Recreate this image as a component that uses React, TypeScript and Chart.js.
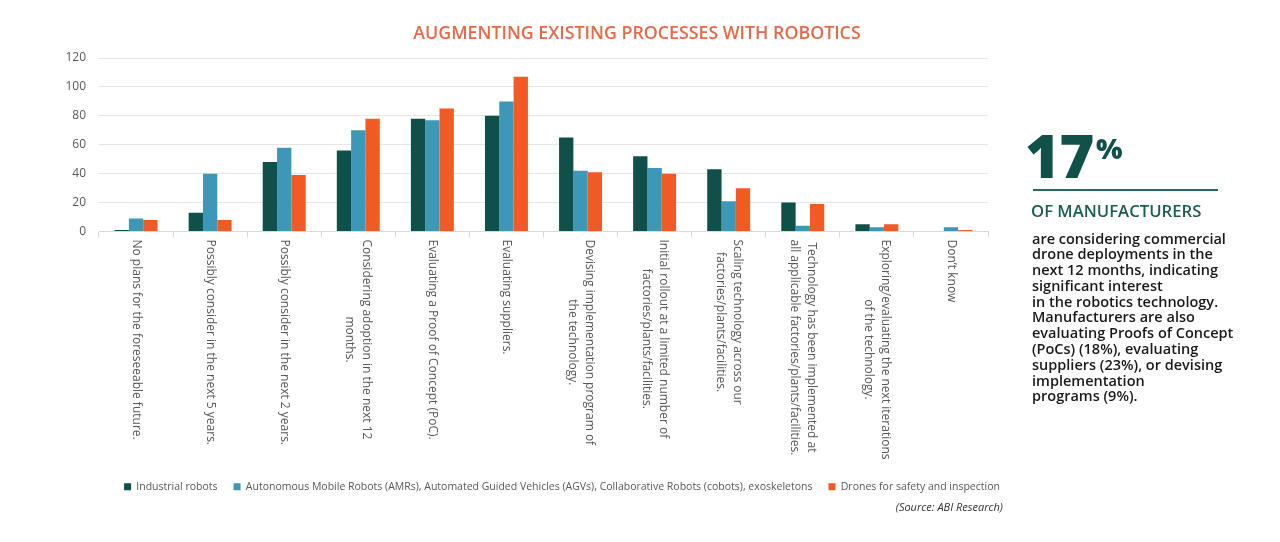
import React, { useEffect, useRef } from "react";
import { Chart, registerables } from "chart.js";

Chart.register(...registerables);

const chartTitle = "AUGMENTING EXISTING PROCESSES WITH ROBOTICS";
const sourceNote = "(Source: ABI Research)";

const categories: string[][] = [
  ["No plans for the foreseeable future."],
  ["Possibly consider in the next 5 years."],
  ["Possibly consider in the next 2 years."],
  ["Considering adoption in the next 12", "months."],
  ["Evaluating a Proof of Concept (PoC)."],
  ["Evaluating suppliers."],
  ["Devising implementation program of", "the technology."],
  ["Initial rollout at a limited number of", "factories/plants/facilities."],
  ["Scaling technology across our", "factories/plants/facilities."],
  ["Technology has been implemented at", "all applicable factories/plants/facilities."],
  ["Exploring/evaluating the next iterations", "of the technology."],
  ["Don\u2019t know"],
];

const seriesNames = [
  "Industrial robots",
  "Autonomous Mobile Robots (AMRs), Automated Guided Vehicles (AGVs), Collaborative Robots (cobots), exoskeletons",
  "Drones for safety and inspection",
];

const industrialRobots = [1, 13, 48, 56, 78, 80, 65, 52, 43, 20, 5, 0];
const mobileCollaborative = [9, 40, 58, 70, 77, 90, 42, 44, 21, 4, 3, 3];
const dronesInspection = [8, 8, 39, 78, 85, 107, 41, 40, 30, 19, 5, 1];

const seriesColors = ["#10504b", "#3d98b8", "#f15a24"];

const yMin = 0;
const yMax = 120;
const yStep = 20;

const bodyLines = [
  "are considering commercial",
  "drone deployments in the",
  "next 12 months, indicating",
  "significant interest",
  "in the robotics technology.",
  "Manufacturers are also",
  "evaluating Proofs of Concept",
  "(PoCs) (18%), evaluating",
  "suppliers (23%), or devising",
  "implementation",
  "programs (9%).",
];

const FONT = '"Open Sans", "Noto Sans", sans-serif';

const overlayPlugin = {
  id: "overlayText",
  afterDraw(chart: any) {
    const { ctx, chartArea } = chart;
    const xs = chart.scales.x;
    ctx.save();
    ctx.font = `12px ${FONT}`;
    ctx.fillStyle = "#595959";
    ctx.textBaseline = "middle";
    ctx.textAlign = "center";
    categories.forEach((lines, i) => {
      const cx = xs.getPixelForValue(i);
      const maxW = Math.max(...lines.map((l) => ctx.measureText(l).width));
      ctx.save();
      ctx.translate(cx, chartArea.bottom + 8);
      ctx.rotate(Math.PI / 2);
      lines.forEach((l, j) => {
        ctx.fillText(l, maxW / 2, (j - (lines.length - 1) / 2) * 17);
      });
      ctx.restore();
    });
    ctx.font = `600 17.8px ${FONT}`;
    ctx.fillStyle = "#e8694a";
    ctx.textAlign = "center";
    ctx.fillText(chartTitle, 637, 34);
    ctx.font = `italic 11px ${FONT}`;
    ctx.textAlign = "right";
    ctx.fillStyle = "#333333";
    ctx.fillText(sourceNote, 1003, 508);
    ctx.restore();
  },
};

export default function App() {
  const canvasRef = useRef<HTMLCanvasElement | null>(null);

  useEffect(() => {
    if (!canvasRef.current) return;
    const chart = new Chart(canvasRef.current, {
      type: "bar",
      data: {
        labels: categories.map((c) => c.join(" ")),
        datasets: [
          { label: seriesNames[0], data: industrialRobots, backgroundColor: seriesColors[0] },
          { label: seriesNames[1], data: mobileCollaborative, backgroundColor: seriesColors[1] },
          { label: seriesNames[2], data: dronesInspection, backgroundColor: seriesColors[2] },
        ],
      },
      options: {
        animation: false,
        responsive: false,
        events: [],
        layout: { padding: { top: 58, right: 156, bottom: 40, left: 0 } },
        datasets: {
          bar: { categoryPercentage: 0.58, barPercentage: 1, borderWidth: 0 },
        },
        plugins: {
          title: { display: false },
          tooltip: { enabled: false },
          legend: {
            position: "bottom",
            labels: {
              boxWidth: 7,
              boxHeight: 7,
              padding: 16,
              color: "#595959",
              font: { family: FONT, size: 10.5 },
            },
          },
        },
        scales: {
          x: {
            ticks: { display: false },
            grid: {
              display: true,
              drawOnChartArea: false,
              drawTicks: true,
              tickLength: 6,
              color: "#d9d9d9",
              offset: true,
            },
            border: { display: true, color: "#d9d9d9" },
            afterFit: (s: any) => {
              s.height = 234;
            },
          },
          y: {
            min: yMin,
            max: yMax,
            ticks: {
              stepSize: yStep,
              color: "#595959",
              font: { family: FONT, size: 12 },
              padding: 13,
            },
            grid: { color: "#e6e6e6", drawTicks: false },
            border: { display: false },
            afterFit: (s: any) => {
              s.width = 99;
            },
          },
          y2: {
            position: "right",
            display: true,
            ticks: { display: false },
            grid: { display: false },
            border: { display: false },
            afterFit: (s: any) => {
              s.width = 136;
            },
          },
        },
      },
      plugins: [overlayPlugin],
    } as any);
    return () => chart.destroy();
  }, []);

  return (
    <div
      style={{
        position: "absolute",
        left: 0,
        top: 0,
        width: 1280,
        height: 542,
        background: "#ffffff",
        overflow: "hidden",
        fontFamily: FONT,
      }}
    >
      <canvas
        ref={canvasRef}
        width={1280}
        height={542}
        style={{ position: "absolute", left: 0, top: 0, width: 1280, height: 542 }}
      />
      <div
        style={{
          position: "absolute",
          left: 1025,
          top: 124.6,
          fontSize: 60,
          lineHeight: "60px",
          fontWeight: 800,
          color: "#10524a",
          letterSpacing: -1,
          whiteSpace: "nowrap",
        }}
      >
        17
      </div>
      <div
        style={{
          position: "absolute",
          left: 1096,
          top: 134,
          fontSize: 28,
          lineHeight: "28px",
          fontWeight: 800,
          color: "#10524a",
          whiteSpace: "nowrap",
        }}
      >
        %
      </div>
      <div
        style={{
          position: "absolute",
          left: 1033,
          top: 189,
          width: 185,
          height: 2,
          background: "#2b6b5f",
        }}
      />
      <div
        style={{
          position: "absolute",
          left: 1031,
          top: 202.5,
          fontSize: 16.7,
          lineHeight: "16.7px",
          fontWeight: 600,
          color: "#1d5e52",
          whiteSpace: "nowrap",
        }}
      >
        OF MANUFACTURERS
      </div>
      <div
        style={{
          position: "absolute",
          left: 1032,
          top: 230.5,
          fontSize: 14.5,
          lineHeight: "15.8px",
          fontWeight: 600,
          color: "#1a1a1a",
          whiteSpace: "nowrap",
        }}
      >
        {bodyLines.map((l, i) => (
          <div key={i}>{l}</div>
        ))}
      </div>
    </div>
  );
}
